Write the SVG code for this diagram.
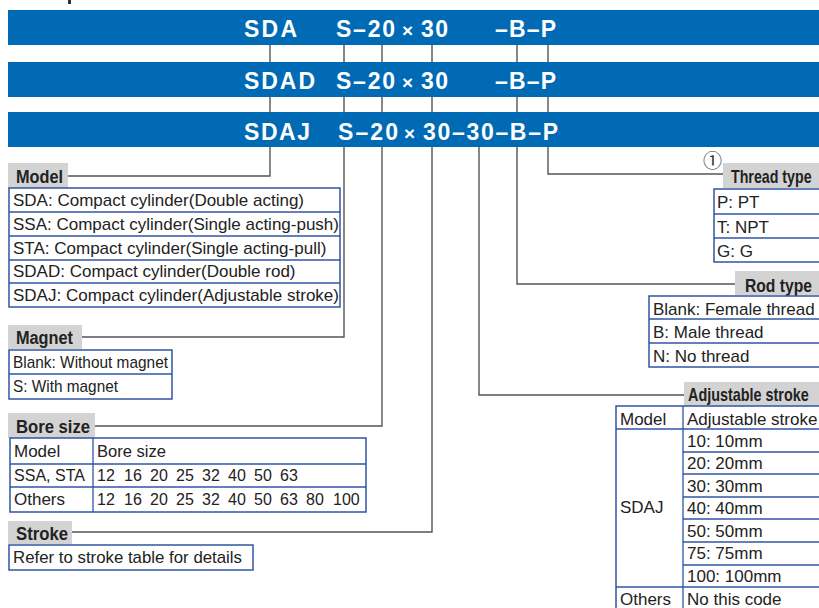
<svg xmlns="http://www.w3.org/2000/svg" width="819" height="608" viewBox="0 0 819 608">
<style>
.ban{fill:#006ab4}
.bt{font-family:"Liberation Sans",Arial,sans-serif;font-weight:bold;font-size:23px;fill:#fff}
.bx{font-family:"Liberation Sans",Arial,sans-serif;font-weight:bold;font-size:19px;fill:#fff}
.lab{fill:#d3d3d3}
.lt{font-family:"Liberation Sans",Arial,sans-serif;font-weight:bold;font-size:18px;fill:#222}
.tb{fill:#fff;stroke:#2f55a6;stroke-width:1.5}
.ln{stroke:#2f55a6;stroke-width:1.3}
.t{font-family:"Liberation Sans",Arial,sans-serif;font-size:17px;fill:#222}
.n{font-family:"Liberation Sans",Arial,sans-serif;font-size:16px;fill:#222}
.con{fill:none;stroke:#555;stroke-width:1.4}
</style>
<rect x="68" y="0" width="3" height="4" fill="#333"/>
<g id="connectors">
<polyline class="con" points="270,45 270,176 68,176"/>
<polyline class="con" points="344,45 344,337 82,337"/>
<polyline class="con" points="382,45 382,426 95,426"/>
<polyline class="con" points="432,45 432,532 72,532"/>
<polyline class="con" points="479,147 479,395 684,395"/>
<polyline class="con" points="517,45 517,284 735,284"/>
<polyline class="con" points="548,45 548,174 723,174"/>
</g>
<g id="banner1">
<rect class="ban" x="8" y="10" width="811" height="35"/>
<text class="bt" x="244" y="37" textLength="53">SDA</text>
<text class="bt" x="336" y="37" textLength="59">S–20</text>
<text class="bx" x="402" y="37">×</text>
<text class="bt" x="421" y="37" textLength="27">30</text>
<text class="bt" x="495" y="37" textLength="61">–B–P</text>
</g>
<g id="banner2">
<rect class="ban" x="8" y="62" width="811" height="35"/>
<text class="bt" x="244" y="89" textLength="71">SDAD</text>
<text class="bt" x="336" y="89" textLength="59">S–20</text>
<text class="bx" x="402" y="89">×</text>
<text class="bt" x="421" y="89" textLength="27">30</text>
<text class="bt" x="495" y="89" textLength="61">–B–P</text>
</g>
<g id="banner3">
<rect class="ban" x="8" y="112" width="811" height="35"/>
<text class="bt" x="244" y="140" textLength="66">SDAJ</text>
<text class="bt" x="338" y="140" textLength="60">S–20</text>
<text class="bx" x="404" y="140">×</text>
<text class="bt" x="423" y="140" textLength="135">30–30–B–P</text>
</g>
<g id="model">
<rect class="lab" x="8" y="163" width="60" height="25"/>
<text class="lt" x="16" y="183" textLength="47" lengthAdjust="spacingAndGlyphs">Model</text>
<rect class="tb" x="9" y="188" width="331" height="119"/>
<line class="ln" x1="9" y1="212" x2="340" y2="212"/>
<line class="ln" x1="9" y1="236" x2="340" y2="236"/>
<line class="ln" x1="9" y1="260" x2="340" y2="260"/>
<line class="ln" x1="9" y1="283" x2="340" y2="283"/>
<text class="t" x="13" y="206">SDA: Compact cylinder(Double acting)</text>
<text class="t" x="13" y="230">SSA: Compact cylinder(Single acting-push)</text>
<text class="t" x="13" y="254">STA: Compact cylinder(Single acting-pull)</text>
<text class="t" x="13" y="277">SDAD: Compact cylinder(Double rod)</text>
<text class="t" x="13" y="301">SDAJ: Compact cylinder(Adjustable stroke)</text>
</g>
<g id="magnet">
<rect class="lab" x="8" y="325" width="74" height="24"/>
<text class="lt" x="16" y="344" textLength="57" lengthAdjust="spacingAndGlyphs">Magnet</text>
<rect class="tb" x="9" y="350" width="163" height="49"/>
<line class="ln" x1="9" y1="374" x2="172" y2="374"/>
<text class="t" x="13" y="368" textLength="155" lengthAdjust="spacingAndGlyphs">Blank: Without magnet</text>
<text class="t" x="13" y="392" textLength="105" lengthAdjust="spacingAndGlyphs">S: With magnet</text>
</g>
<g id="bore">
<rect class="lab" x="8" y="413" width="87" height="25"/>
<text class="lt" x="16" y="433" textLength="74" lengthAdjust="spacingAndGlyphs">Bore size</text>
<rect class="tb" x="10" y="438" width="356" height="74"/>
<line class="ln" x1="10" y1="464" x2="366" y2="464"/>
<line class="ln" x1="10" y1="487" x2="366" y2="487"/>
<line class="ln" x1="93" y1="438" x2="93" y2="512"/>
<text class="t" x="14" y="457">Model</text>
<text class="t" x="97" y="457" textLength="69" lengthAdjust="spacingAndGlyphs">Bore size</text>
<text class="t" x="14" y="481" textLength="71" lengthAdjust="spacingAndGlyphs">SSA, STA</text>
<text class="t" x="14" y="505">Others</text>
<text class="n" y="481"><tspan x="97">12</tspan><tspan x="124">16</tspan><tspan x="150">20</tspan><tspan x="176">25</tspan><tspan x="202">32</tspan><tspan x="228">40</tspan><tspan x="254">50</tspan><tspan x="280">63</tspan></text>
<text class="n" y="505"><tspan x="97">12</tspan><tspan x="124">16</tspan><tspan x="150">20</tspan><tspan x="176">25</tspan><tspan x="202">32</tspan><tspan x="228">40</tspan><tspan x="254">50</tspan><tspan x="280">63</tspan><tspan x="306">80</tspan><tspan x="333">100</tspan></text>
</g>
<g id="stroke">
<rect class="lab" x="8" y="521" width="64" height="23"/>
<text class="lt" x="16" y="540" textLength="52" lengthAdjust="spacingAndGlyphs">Stroke</text>
<rect class="tb" x="9" y="545" width="244" height="25"/>
<text class="t" x="13" y="563" textLength="229" lengthAdjust="spacingAndGlyphs">Refer to stroke table for details</text>
</g>
<g id="thread">
<text x="703" y="168" font-family="'Noto Sans CJK SC','DejaVu Sans',sans-serif" font-size="19" fill="#333">①</text>
<rect class="lab" x="723" y="163" width="96" height="25"/>
<text class="lt" transform="translate(731,183) scale(0.79,1)" font-size="19">Thread type</text>
<rect class="tb" x="714" y="189" width="110" height="73"/>
<line class="ln" x1="714" y1="214" x2="819" y2="214"/>
<line class="ln" x1="714" y1="238" x2="819" y2="238"/>
<text class="t" x="717" y="208">P: PT</text>
<text class="t" x="717" y="233">T: NPT</text>
<text class="t" x="717" y="257">G: G</text>
</g>
<g id="rod">
<rect class="lab" x="735" y="271" width="84" height="24"/>
<text class="lt" transform="translate(745,292) scale(0.87,1)" font-size="19">Rod type</text>
<rect class="tb" x="649" y="296" width="175" height="71"/>
<line class="ln" x1="649" y1="319" x2="819" y2="319"/>
<line class="ln" x1="649" y1="343" x2="819" y2="343"/>
<text class="t" x="653" y="315">Blank: Female thread</text>
<text class="t" x="653" y="338">B: Male thread</text>
<text class="t" x="653" y="362">N: No thread</text>
</g>
<g id="adjustable">
<rect class="lab" x="684" y="382" width="135" height="24"/>
<text class="lt" transform="translate(688,401) scale(0.8,1)" font-size="19">Adjustable stroke</text>
<rect class="tb" x="616" y="406" width="208" height="210"/>
<line class="ln" x1="683" y1="406" x2="683" y2="616"/>
<line class="ln" x1="616" y1="429" x2="819" y2="429"/>
<line class="ln" x1="683" y1="452" x2="819" y2="452"/>
<line class="ln" x1="683" y1="474" x2="819" y2="474"/>
<line class="ln" x1="683" y1="497" x2="819" y2="497"/>
<line class="ln" x1="683" y1="519" x2="819" y2="519"/>
<line class="ln" x1="683" y1="542" x2="819" y2="542"/>
<line class="ln" x1="683" y1="565" x2="819" y2="565"/>
<line class="ln" x1="616" y1="587" x2="819" y2="587"/>
<text class="t" x="620" y="425">Model</text>
<text class="t" x="687" y="425">Adjustable stroke</text>
<text class="t" x="620" y="513">SDAJ</text>
<text class="t" x="687" y="447">10: 10mm</text>
<text class="t" x="687" y="469">20: 20mm</text>
<text class="t" x="687" y="492">30: 30mm</text>
<text class="t" x="687" y="514">40: 40mm</text>
<text class="t" x="687" y="537">50: 50mm</text>
<text class="t" x="687" y="559">75: 75mm</text>
<text class="t" x="687" y="582">100: 100mm</text>
<text class="t" x="620" y="605">Others</text>
<text class="t" x="687" y="605">No this code</text>
</g>
</svg>
